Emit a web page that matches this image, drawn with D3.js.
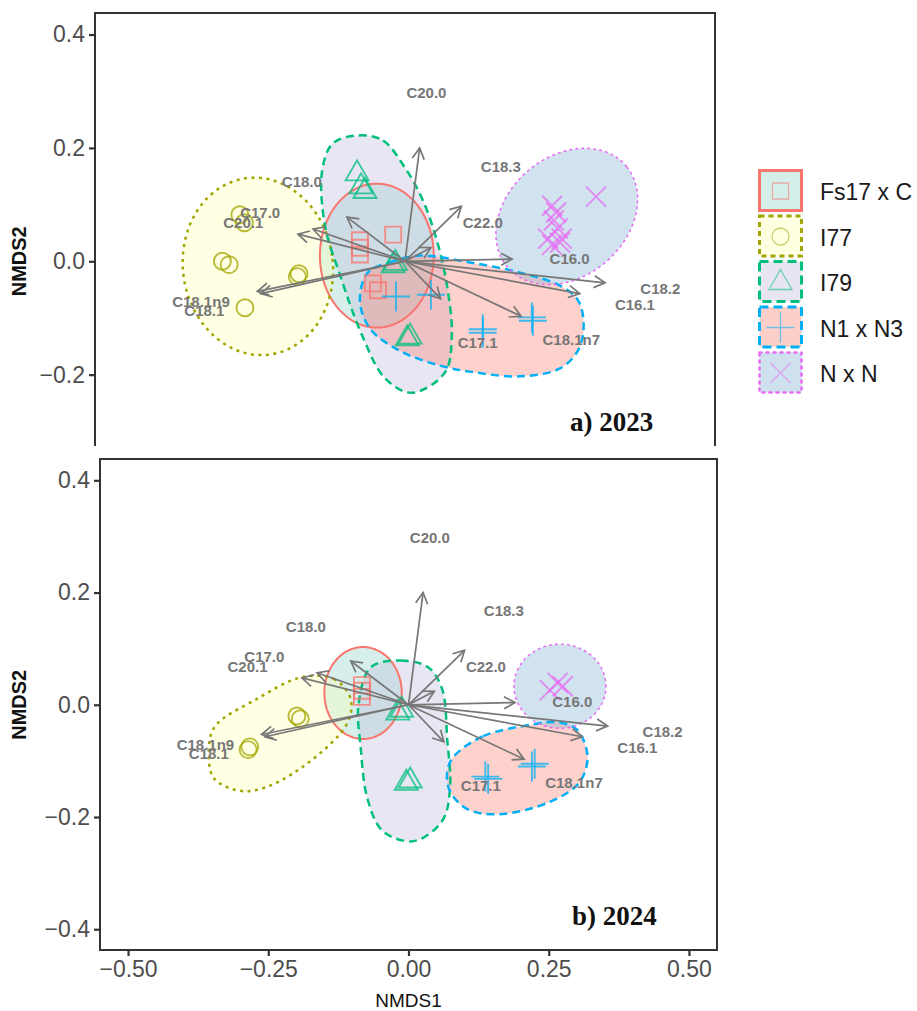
<!DOCTYPE html>
<html>
<head>
<meta charset="utf-8">
<script src="https://cdn.jsdelivr.net/npm/d3@7"></script>
<style>
  body { margin: 0; background: #fff; }
  svg text { font-family: "Liberation Sans", Arial, sans-serif; }
</style>
</head>
<body>
<svg id="chart"></svg>
<script>
// ---- Data (NMDS coordinates) ----
const groups = ["Fs17 x C", "I77", "I79", "N1 x N3", "N x N"];
const lineColors = ["#F8766D", "#A3A500", "#00BF7D", "#00B0F6", "#E76BF3"];
const fillColors = ["#8DD3C7", "#FFFFB3", "#BEBADA", "#FB8072", "#80B1D3"];
const shapes = ["square", "circle", "triangle", "plus", "cross"];
const dashes = [null, "3,4.5", "8,5", "8,5", "1.5,4.5"];
const lineWidths = [2, 2.5, 2.5, 2.5, 1.6];

const xTicks = [-0.5, -0.25, 0, 0.25, 0.5];
const yTicks = [-0.4, -0.2, 0, 0.2, 0.4];

// fatty acid vectors (shared by both years)
const vecNames = ["C20.0", "C18.3", "C22.0", "C16.0", "C18.2", "C16.1", "C18.1n7",
                  "C17.1", "C18.0", "C17.0", "C20.1", "C18.1n9", "C18.1"];
const vecX = [0.026, 0.046, 0.100, 0.190, 0.355, 0.310, 0.206, 0.063, -0.103, -0.163, -0.190, -0.262, -0.256];
const vecY = [0.200, 0.024, 0.097, 0.004, -0.038, -0.057, -0.097, -0.066, 0.078, 0.057, 0.048, -0.053, -0.057];
const labX = [0.038, 0.170, 0.138, 0.292, 0.453, 0.408, 0.295, 0.129, -0.183, -0.257, -0.287, -0.362, -0.356];
const labY = [0.298, 0.168, 0.069, 0.005, -0.048, -0.077, -0.138, -0.143, 0.140, 0.086, 0.069, -0.071, -0.087];

// 2023 samples
const fs17_2023 = [[-0.080, 0.037], [-0.080, 0.024], [-0.080, 0.012], [-0.021, 0.047], [-0.057, -0.039], [-0.048, -0.051]];
const i77_2023 = [[-0.293, 0.082], [-0.285, 0.068], [-0.324, 0.000], [-0.312, -0.006], [-0.191, -0.027], [-0.188, -0.022], [-0.284, -0.082]];
const i79_2023 = [[-0.085, 0.156], [-0.078, 0.133], [-0.071, 0.125], [-0.021, -0.006], [-0.017, -0.002], [0.004, -0.135], [0.009, -0.132]];
const n1n3_2023 = [[-0.016, -0.062], [0.046, -0.059], [0.138, -0.126], [0.138, -0.120], [0.227, -0.105], [0.225, -0.099]];
const nn_2023 = [[0.339, 0.114], [0.261, 0.098], [0.268, 0.086], [0.264, 0.072], [0.271, 0.058], [0.254, 0.040], [0.278, 0.040], [0.261, 0.029], [0.275, 0.033]];

// 2024 samples
const fs17_2024 = [[-0.083, 0.035], [-0.083, 0.025], [-0.083, 0.014]];
const i77_2024 = [[-0.193, -0.025], [-0.199, -0.020], [-0.286, -0.080], [-0.283, -0.075]];
const i79_2024 = [[-0.019, -0.013], [-0.012, -0.008], [-0.004, -0.138], [0.003, -0.134]];
const n1n3_2024 = [[0.137, -0.128], [0.142, -0.132], [0.225, -0.105], [0.220, -0.110]];
const nn_2024 = [[0.252, 0.026], [0.275, 0.033], [0.266, 0.039]];

// group outlines: ellipses [cx, cy, rx, ry, angle] or hull control points
const ellFs17_2023 = [-0.050, 0.010, 0.101, 0.127, 0];
const ellI77_2023 = [-0.261, -0.009, 0.133, 0.157, 8];
const hullI79_2023 = [[-0.083, 0.222], [-0.039, 0.213], [0.000, 0.165], [0.032, 0.107], [0.059, 0.028], [0.076, -0.052],
  [0.083, -0.131], [0.071, -0.196], [0.012, -0.232], [-0.035, -0.207], [-0.076, -0.131], [-0.115, -0.025],
  [-0.142, 0.063], [-0.147, 0.160], [-0.128, 0.208]];
const hullN1N3_2023 = [[-0.066, -0.020], [-0.027, -0.002], [0.027, 0.010], [0.115, -0.002], [0.204, -0.020], [0.275, -0.043],
  [0.307, -0.069], [0.317, -0.113], [0.307, -0.157], [0.275, -0.189], [0.204, -0.203], [0.124, -0.196],
  [0.062, -0.184], [-0.009, -0.158], [-0.062, -0.119], [-0.080, -0.069]];
const ellNN_2023 = [0.287, 0.079, 0.138, 0.106, 40];

const ellFs17_2024 = [-0.081, 0.021, 0.069, 0.082, 0];
const hullI77_2024 = [[-0.191, 0.049], [-0.133, 0.046], [-0.103, 0.010], [-0.112, -0.038], [-0.222, -0.132], [-0.293, -0.154],
  [-0.346, -0.132], [-0.356, -0.091], [-0.346, -0.040], [-0.271, 0.010]];
const hullI79_2024 = [[-0.067, 0.067], [-0.014, 0.079], [0.035, 0.067], [0.060, 0.028], [0.069, -0.061], [0.074, -0.150],
  [0.060, -0.207], [0.009, -0.243], [-0.046, -0.225], [-0.073, -0.168], [-0.085, -0.079], [-0.089, 0.001]];
const hullN1N3_2024 = [[0.080, -0.093], [0.133, -0.056], [0.222, -0.035], [0.264, -0.031], [0.300, -0.044], [0.319, -0.091],
  [0.305, -0.138], [0.252, -0.173], [0.163, -0.195], [0.105, -0.186], [0.074, -0.154], [0.069, -0.120]];
const ellNN_2024 = [0.270, 0.033, 0.082, 0.075, 0];

// ---- Layout ----
const W = 917, H = 1011;
const panels = [
  {tag: "a) 2023", left: 95, right: 715, top: 13, bottom: 509, clipH: 446, xAxis: false, tagX: 570, tagY: 431,
   pts: [fs17_2023, i77_2023, i79_2023, n1n3_2023, nn_2023],
   outlines: [ellFs17_2023, ellI77_2023, hullI79_2023, hullN1N3_2023, ellNN_2023]},
  {tag: "b) 2024", left: 100, right: 717, top: 459, bottom: 950, clipH: null, xAxis: true, tagX: 572, tagY: 925,
   pts: [fs17_2024, i77_2024, i79_2024, n1n3_2024, nn_2024],
   outlines: [ellFs17_2024, hullI77_2024, hullI79_2024, hullN1N3_2024, ellNN_2024]}
];

const svg = d3.select("#chart").attr("width", W).attr("height", H);
const defs = svg.append("defs");
defs.append("marker")
    .attr("id", "arrowhead")
    .attr("viewBox", "0 0 14 14")
    .attr("refX", 12).attr("refY", 7)
    .attr("markerWidth", 14).attr("markerHeight", 14)
    .attr("markerUnits", "userSpaceOnUse")
    .attr("orient", "auto")
  .append("path")
    .attr("d", "M1,1 L12,7 L1,13")
    .attr("fill", "none")
    .attr("stroke", "#777")
    .attr("stroke-width", 1.7);

function symbolPath(shape) {
  switch (shape) {
    case "square": return "M-8,-8H8V8H-8Z";
    case "circle": return "M8.5,0A8.5,8.5 0 1,1 -8.5,0A8.5,8.5 0 1,1 8.5,0Z";
    case "triangle": return "M0,-12.5L11.5,7.5L-11.5,7.5Z";
    case "plus": return "M-14,0H14M0,-15V15";
    case "cross": return "M-10,-10L10,10M10,-10L-10,10";
  }
}

const hullLine = d3.line().curve(d3.curveCatmullRomClosed.alpha(0.5));
const ellLine = d3.line().curve(d3.curveLinearClosed);

function outlinePath(o, x, y) {
  if (Array.isArray(o[0])) return hullLine(o.map(p => [x(p[0]), y(p[1])]));
  const [cx, cy, rx, ry, a] = o;
  const r = a * Math.PI / 180;
  const ring = d3.range(0, 360, 4).map(t => {
    const th = t * Math.PI / 180;
    const ex = rx * Math.cos(th), ey = ry * Math.sin(th);
    return [x(cx + ex * Math.cos(r) - ey * Math.sin(r)), y(cy + ex * Math.sin(r) + ey * Math.cos(r))];
  });
  return ellLine(ring);
}

panels.forEach((p, pi) => {
  const x = d3.scaleLinear().domain([-0.55, 0.55]).range([p.left, p.right]);
  const y = d3.scaleLinear().domain([-0.437, 0.438]).range([p.bottom, p.top]);

  const g = svg.append("g");
  if (p.clipH) {
    defs.append("clipPath").attr("id", "clip" + pi)
      .append("rect").attr("x", 0).attr("y", 0).attr("width", 745).attr("height", p.clipH);
    g.attr("clip-path", "url(#clip" + pi + ")");
  }

  const inner = g.append("g");
  defs.append("clipPath").attr("id", "panel" + pi)
    .append("rect").attr("x", p.left).attr("y", p.top)
    .attr("width", p.right - p.left).attr("height", p.bottom - p.top);
  inner.attr("clip-path", "url(#panel" + pi + ")");

  // group outlines (fills, then strokes)
  inner.selectAll(".hullfill")
    .data(p.outlines)
    .enter().append("path")
      .attr("class", "hullfill")
      .attr("d", d => outlinePath(d, x, y))
      .attr("fill", (d, i) => fillColors[i])
      .attr("fill-opacity", 0.36)
      .attr("stroke", "none");
  inner.selectAll(".hullline")
    .data(p.outlines)
    .enter().append("path")
      .attr("class", "hullline")
      .attr("d", d => outlinePath(d, x, y))
      .attr("fill", "none")
      .attr("stroke", (d, i) => lineColors[i])
      .attr("stroke-width", (d, i) => lineWidths[i])
      .attr("stroke-dasharray", (d, i) => dashes[i])
      .attr("stroke-linecap", (d, i) => i === 4 ? "round" : "butt");

  // samples
  p.pts.forEach((arr, gi) => {
    inner.selectAll(".pt" + gi)
      .data(arr)
      .enter().append("path")
        .attr("class", "pt" + gi)
        .attr("transform", d => "translate(" + [x(d[0]), y(d[1])] + ")")
        .attr("d", symbolPath(shapes[gi]))
        .attr("fill", "none")
        .attr("stroke", lineColors[gi])
        .attr("stroke-width", 1.9)
        .attr("stroke-opacity", 0.75);
  });

  // vectors
  inner.selectAll(".vec")
    .data(vecNames)
    .enter().append("line")
      .attr("class", "vec")
      .attr("x1", x(0)).attr("y1", y(0))
      .attr("x2", (d, i) => x(vecX[i]))
      .attr("y2", (d, i) => y(vecY[i]))
      .attr("stroke", "#777")
      .attr("stroke-width", 1.7)
      .attr("marker-end", "url(#arrowhead)");
  inner.selectAll(".veclab")
    .data(vecNames)
    .enter().append("text")
      .attr("class", "veclab")
      .attr("x", (d, i) => x(labX[i]))
      .attr("y", (d, i) => y(labY[i]))
      .attr("text-anchor", "middle")
      .attr("dominant-baseline", "central")
      .attr("font-size", 15)
      .attr("font-weight", "bold")
      .attr("fill", "#777")
      .text(d => d);

  // panel tag
  g.append("text")
    .attr("x", p.tagX).attr("y", p.tagY)
    .style("font-family", "'Liberation Serif', 'Times New Roman', serif")
    .attr("font-size", 27)
    .attr("font-weight", "bold")
    .attr("fill", "#111")
    .text(p.tag);

  // frame
  g.append("rect")
    .attr("x", p.left).attr("y", p.top)
    .attr("width", p.right - p.left).attr("height", p.bottom - p.top)
    .attr("fill", "none")
    .attr("stroke", "#333")
    .attr("stroke-width", 2);

  // y axis (only ticks that are visible in the panel)
  const shownY = yTicks.filter(v => !p.clipH || y(v) < p.clipH - 10);
  const yAxis = g.append("g")
    .attr("transform", "translate(" + p.left + ",0)")
    .call(d3.axisLeft(y).tickValues(shownY).tickSize(6).tickPadding(4).tickFormat(d3.format(".1f")));
  yAxis.select(".domain").remove();
  yAxis.selectAll(".tick line").attr("stroke", "#333").attr("stroke-width", 2.2);
  yAxis.selectAll(".tick text").attr("font-size", 23).attr("fill", "#4d4d4d")
    .attr("font-family", null);

  g.append("text")
    .attr("transform", "translate(" + [19, y(0)] + ") rotate(-90)")
    .attr("text-anchor", "middle")
    .attr("dominant-baseline", "central")
    .attr("font-size", 20)
    .attr("font-weight", "bold")
    .attr("fill", "#111")
    .text("NMDS2");

  if (p.xAxis) {
    const xAxis = g.append("g")
      .attr("transform", "translate(0," + p.bottom + ")")
      .call(d3.axisBottom(x).tickValues(xTicks).tickSize(6).tickPadding(5).tickFormat(d3.format(".2f")));
    xAxis.select(".domain").remove();
    xAxis.selectAll(".tick line").attr("stroke", "#333").attr("stroke-width", 2.2);
    xAxis.selectAll(".tick text").attr("font-size", 23).attr("fill", "#4d4d4d")
      .attr("font-family", null);
    g.append("text")
      .attr("x", x(0))
      .attr("y", 1000)
      .attr("text-anchor", "middle")
      .attr("dominant-baseline", "central")
      .attr("font-size", 19)
      .attr("fill", "#111")
      .text("NMDS1");
  }
});

// ---- Legend ----
const legend = svg.append("g").attr("transform", "translate(758,169)");
const keys = legend.selectAll(".key")
  .data(groups)
  .enter().append("g")
    .attr("class", "key")
    .attr("transform", (d, i) => "translate(0," + (i * 45.5) + ")");
keys.append("rect")
    .attr("x", 1.5).attr("y", 1.5)
    .attr("width", 42).attr("height", 40)
    .attr("fill", (d, i) => fillColors[i])
    .attr("fill-opacity", 0.38)
    .attr("stroke", (d, i) => lineColors[i])
    .attr("stroke-width", (d, i) => i === 4 ? 2.6 : 3)
    .attr("stroke-dasharray", (d, i) => i === 0 ? null : (i === 1 ? "5,4" : (i === 4 ? "2,5" : "9,5")))
    .attr("stroke-linecap", (d, i) => i === 4 ? "round" : "butt");
keys.append("path")
    .attr("transform", "translate(22.5,22)")
    .attr("d", (d, i) => symbolPath(shapes[i]))
    .attr("fill", "none")
    .attr("stroke", (d, i) => lineColors[i])
    .attr("stroke-width", 1.3)
    .attr("stroke-opacity", 0.55);
keys.append("text")
    .attr("x", 62).attr("y", 23)
    .attr("dominant-baseline", "central")
    .attr("font-size", 23)
    .attr("fill", "#1a1a1a")
    .text(d => d);
</script>
</body>
</html>
